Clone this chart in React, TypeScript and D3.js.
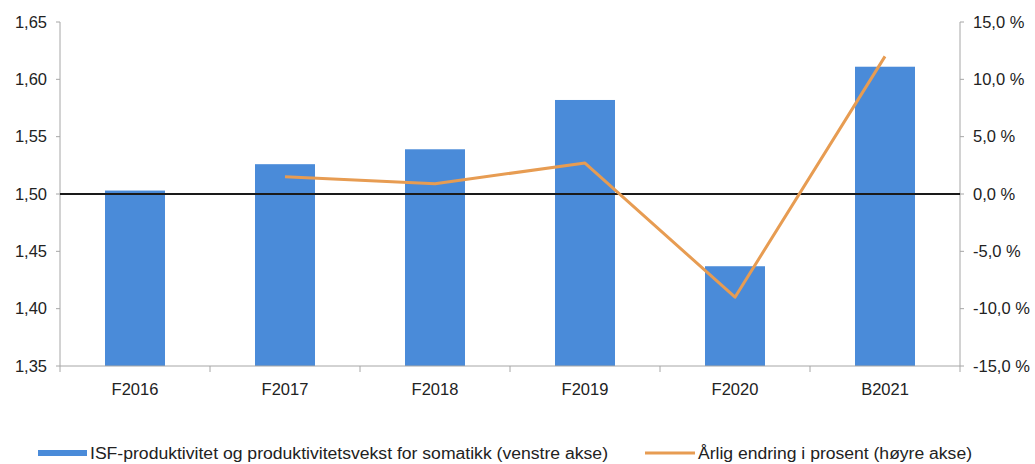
import React from "react";
import * as d3 from "d3";

const categories = ["F2016", "F2017", "F2018", "F2019", "F2020", "B2021"];
const productivity = [1.503, 1.526, 1.539, 1.582, 1.437, 1.611];
const changePct: (number | null)[] = [null, 1.5, 0.9, 2.7, -9.0, 12.0];
const leftTicks = [1.35, 1.4, 1.45, 1.5, 1.55, 1.6, 1.65];
const rightTicks = [-15, -10, -5, 0, 5, 10, 15];
const legendBar = "ISF-produktivitet og produktivitetsvekst for somatikk (venstre akse)";
const legendLine = "Årlig endring i prosent (høyre akse)";

const W = 1035;
const H = 464;
const left = 60;
const right = 960;
const top = 22;
const bottom = 366;

const BAR = "#4a8bd9";
const LINE = "#e79c52";
const AXIS = "#a6a6a6";
const FONT = "'Liberation Sans', Arial, sans-serif";

export default function App() {
  const x = d3.scaleBand<string>().domain(categories).range([left, right]).paddingInner(0.6).paddingOuter(0.3);
  const step = x.step();
  const yL = d3.scaleLinear().domain([1.35, 1.65]).range([bottom, top]);
  const yR = d3.scaleLinear().domain([-15, 15]).range([bottom, top]);
  const fmtL = (v: number) => v.toFixed(2).replace(".", ",");
  const fmtR = (v: number) => v.toFixed(1).replace(".", ",").replace("-", "-") + " %";

  const lineGen = d3
    .line<number | null>()
    .defined((d) => d !== null)
    .x((_, i) => (x(categories[i]) as number) + x.bandwidth() / 2)
    .y((d) => yR(d as number));

  const boundaries = d3.range(categories.length + 1).map((i) => left + i * step);

  return (
    <svg width={W} height={H} style={{ position: "absolute", left: 0, top: 0, background: "#fff" }} fontFamily={FONT}>
      {/* bars */}
      {categories.map((c, i) => (
        <rect key={c} x={x(c)} y={yL(productivity[i])} width={x.bandwidth()} height={bottom - yL(productivity[i])} fill={BAR} />
      ))}
      {/* left axis */}
      <line x1={left} x2={left} y1={top} y2={bottom} stroke={AXIS} strokeWidth={1} />
      {leftTicks.map((t) => (
        <g key={t}>
          <line x1={left - 4} x2={left} y1={yL(t)} y2={yL(t)} stroke={AXIS} />
          <text x={47} y={yL(t)} dy="0.35em" textAnchor="end" fontSize={16.5} fill="#222">
            {fmtL(t)}
          </text>
        </g>
      ))}
      {/* right axis */}
      <line x1={right} x2={right} y1={top} y2={bottom} stroke={AXIS} strokeWidth={1} />
      {rightTicks.map((t) => (
        <g key={t}>
          <line x1={right} x2={right + 4} y1={yR(t)} y2={yR(t)} stroke={AXIS} />
          <text x={973} y={yR(t)} dy="0.35em" textAnchor="start" fontSize={16.5} fill="#222">
            {fmtR(t)}
          </text>
        </g>
      ))}
      {/* x axis */}
      <line x1={left} x2={right} y1={bottom} y2={bottom} stroke={AXIS} />
      {boundaries.map((b, i) => (
        <line key={i} x1={b} x2={b} y1={bottom} y2={bottom + 6} stroke={AXIS} />
      ))}
      {categories.map((c) => (
        <text key={c} x={(x(c) as number) + x.bandwidth() / 2} y={395} textAnchor="middle" fontSize={16.5} fill="#222">
          {c}
        </text>
      ))}
      {/* zero line */}
      <line x1={left} x2={right} y1={yL(1.5)} y2={yL(1.5)} stroke="#1a1a1a" strokeWidth={2} />
      {/* change line */}
      <path d={lineGen(changePct) || ""} fill="none" stroke={LINE} strokeWidth={3} strokeLinejoin="round" />
      {/* legend */}
      <rect x={38} y={450} width={49} height={6} fill={BAR} />
      <text x={90} y={459} fontSize={16} fill="#222" textLength={518} lengthAdjust="spacingAndGlyphs">
        {legendBar}
      </text>
      <line x1={645} x2={695} y1={453} y2={453} stroke={LINE} strokeWidth={3} />
      <text x={698} y={459} fontSize={16} fill="#222" textLength={274} lengthAdjust="spacingAndGlyphs">
        {legendLine}
      </text>
    </svg>
  );
}
